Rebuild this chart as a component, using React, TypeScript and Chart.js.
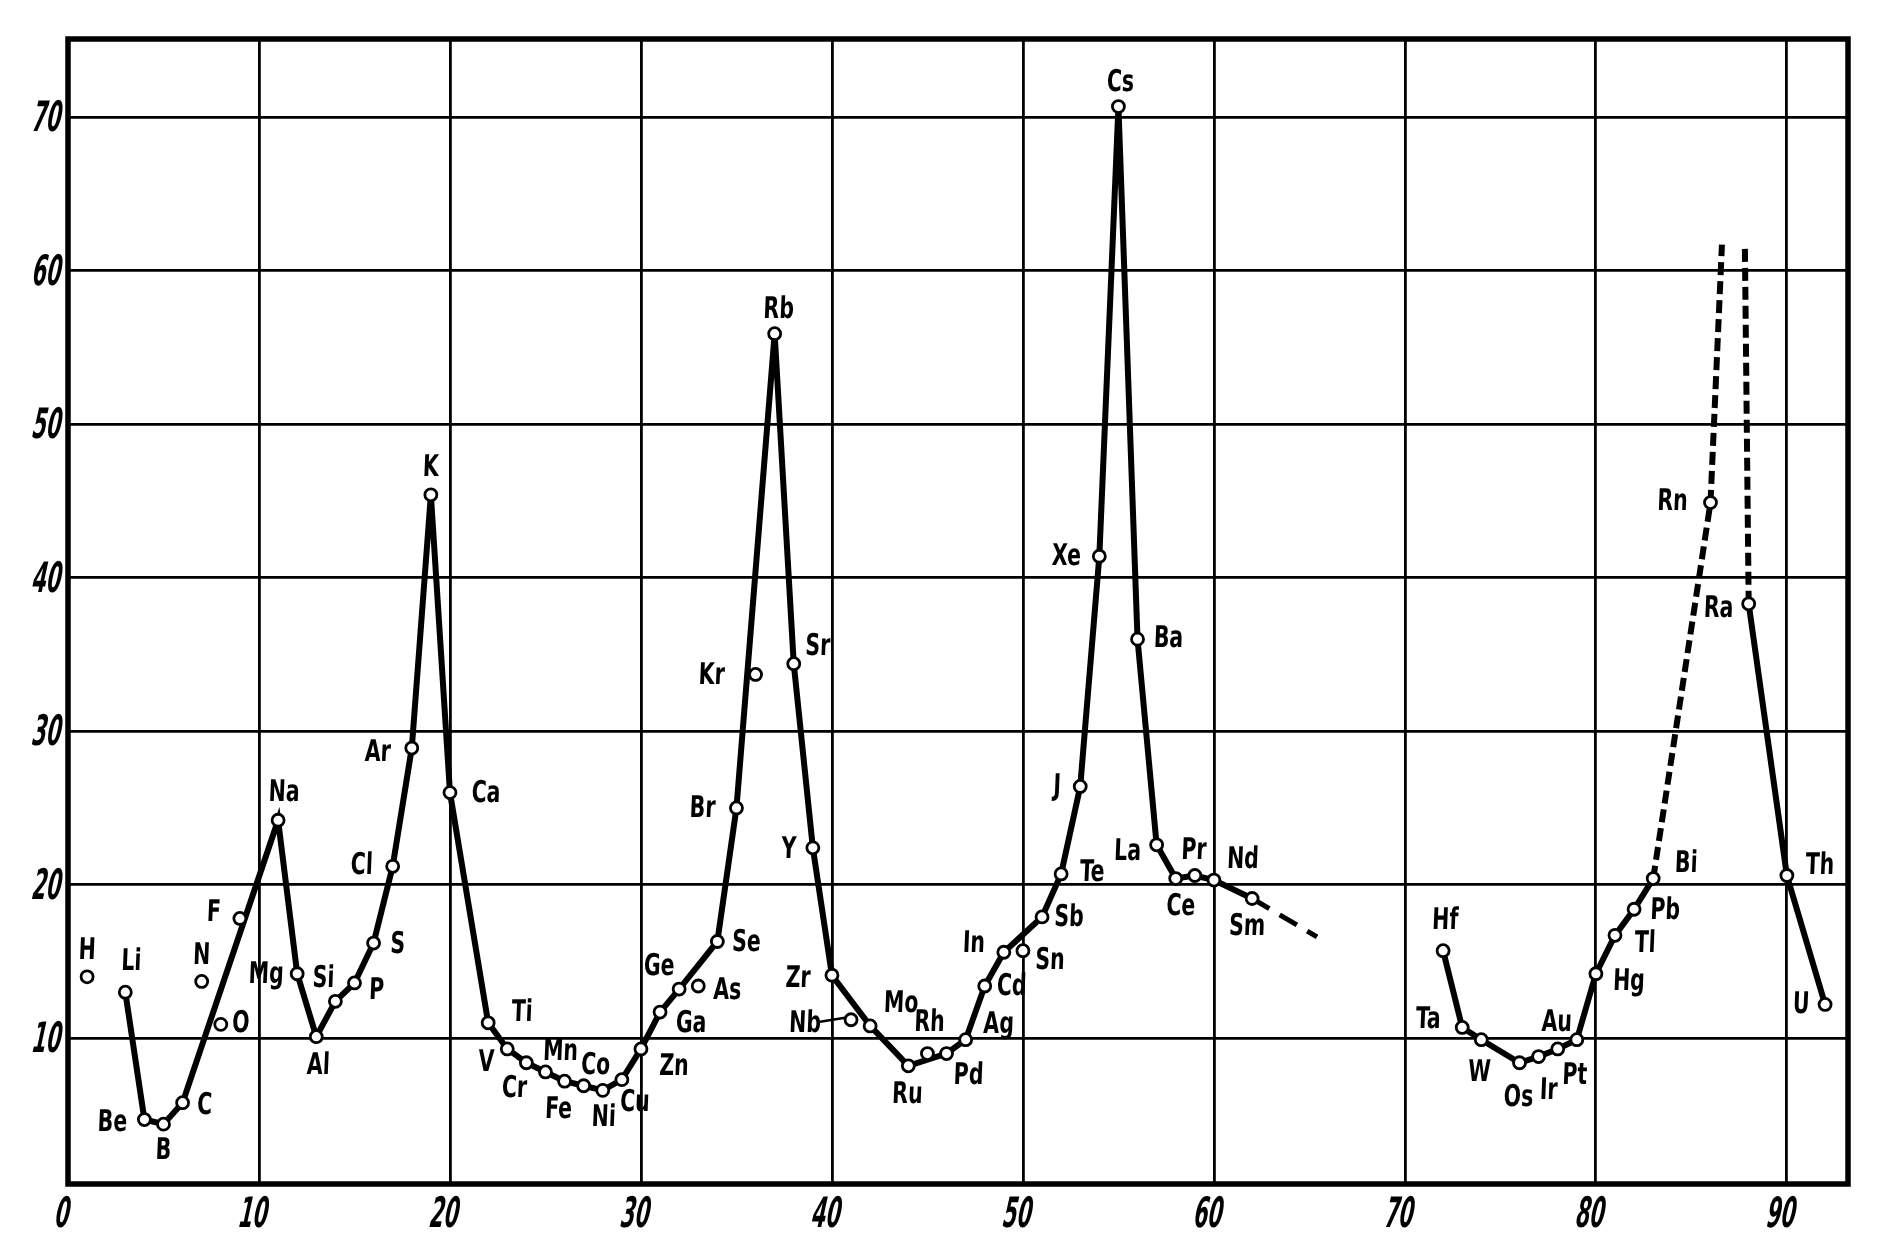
import React, { useEffect, useRef } from "react";
import { Chart, registerables } from "chart.js";

Chart.register(...registerables);

// ---- data (atomic volume vs. atomic number) ----
const symbols = [
  "H", "Li", "Be", "B", "C", "N", "O", "F", "Na", "Mg", "Al", "Si", "P", "S", "Cl", "Ar",
  "K", "Ca", "Ti", "V", "Cr", "Mn", "Fe", "Co", "Ni", "Cu", "Zn", "Ga", "Ge", "As", "Se",
  "Br", "Kr", "Rb", "Sr", "Y", "Zr", "Nb", "Mo", "Ru", "Rh", "Pd", "Ag", "Cd", "In", "Sn",
  "Sb", "Te", "J", "Xe", "Cs", "Ba", "La", "Ce", "Pr", "Nd", "Sm", "Hf", "Ta", "W", "Os",
  "Ir", "Pt", "Au", "Hg", "Tl", "Pb", "Bi", "Rn", "Ra", "Th", "U",
];
const atomicNumbers = [
  1, 3, 4, 5, 6, 7, 8, 9, 11, 12, 13, 14, 15, 16, 17, 18,
  19, 20, 22, 23, 24, 25, 26, 27, 28, 29, 30, 31, 32, 33, 34,
  35, 36, 37, 38, 39, 40, 41, 42, 44, 45, 46, 47, 48, 49, 50,
  51, 52, 53, 54, 55, 56, 57, 58, 59, 60, 62, 72, 73, 74, 76,
  77, 78, 79, 80, 81, 82, 83, 86, 88, 90, 92,
];
const atomicVolumes = [
  14.0, 13.0, 4.7, 4.4, 5.8, 13.7, 10.9, 17.8, 24.2, 14.2, 10.1, 12.4, 13.6, 16.2, 21.2, 28.9,
  45.4, 26.0, 11.0, 9.3, 8.4, 7.8, 7.2, 6.9, 6.6, 7.3, 9.3, 11.7, 13.2, 13.4, 16.3,
  25.0, 33.7, 55.9, 34.4, 22.4, 14.1, 11.2, 10.8, 8.2, 9.0, 9.0, 9.9, 13.4, 15.6, 15.7,
  17.9, 20.7, 26.4, 41.4, 70.7, 36.0, 22.6, 20.4, 20.6, 20.3, 19.1, 15.7, 10.7, 9.9, 8.4,
  8.8, 9.3, 9.9, 14.2, 16.7, 18.4, 20.4, 44.9, 38.3, 20.6, 12.2,
];

// connected runs of elements
const mainChain = [
  "Li", "Be", "B", "C", "Na", "Mg", "Al", "Si", "P", "S", "Cl", "Ar", "K", "Ca", "Ti", "V",
  "Cr", "Mn", "Fe", "Co", "Ni", "Cu", "Zn", "Ga", "Ge", "Se", "Br", "Rb", "Sr", "Y", "Zr",
  "Mo", "Ru", "Pd", "Ag", "Cd", "In", "Sb", "Te", "J", "Xe", "Cs", "Ba", "La", "Ce", "Pr",
  "Nd", "Sm",
];
const heavyChain = ["Hf", "Ta", "W", "Os", "Ir", "Pt", "Au", "Hg", "Tl", "Pb", "Bi"];
const actinideChain = ["Ra", "Th", "U"];
const radonBranch = ["Bi", "Rn"];
const radonBranchEnd = [86.6, 61.7];
const radiumBranch = ["Ra"];
const radiumBranchEnd = [87.8, 61.7];
const rareEarthBranch = ["Sm"];
const rareEarthBranchEnd = [65.4, 16.6];

// tick values
const xTicks = [0, 10, 20, 30, 40, 50, 60, 70, 80, 90];
const yTicks = [10, 20, 30, 40, 50, 60, 70];

// label placement (pixel offset from the point)
const labelOffsets: Record<string, [number, number]> = {
  H: [0, -26], Li: [6, -30], Be: [-32, 4], B: [0, 27], C: [22, 4], N: [0, -25],
  O: [20, 0], F: [-26, -5], Na: [6, -27], Mg: [-31, 1], Si: [-12, -22], Al: [2, 30],
  P: [22, 8], S: [24, 2], Cl: [-31, 0], Ar: [-34, 5], K: [0, -27], Ca: [36, 2],
  Ti: [34, -10], V: [-21, 14], Cr: [-12, 26], Mn: [15, -20], Fe: [-6, 29], Co: [12, -20],
  Ni: [1, 28], Cu: [13, 24], Zn: [33, 18], Ga: [31, 12], Ge: [-20, -22], As: [29, 5],
  Se: [29, 2], Br: [-34, 1], Kr: [-44, 2], Rb: [4, -23], Sr: [24, -16], Y: [-24, 2],
  Zr: [-34, 4], Nb: [-46, 4], Mo: [31, -22], Ru: [-1, 29], Rh: [2, -30], Pd: [22, 23],
  Ag: [33, -15], Cd: [27, 1], In: [-30, -8], Sn: [27, 11], Sb: [27, 1], Te: [31, -1],
  J: [-23, 1], Xe: [-33, 1], Cs: [2, -23], Ba: [31, 0], La: [-29, 7], Ce: [5, 29],
  Pr: [-1, -24], Nd: [29, -20], Sm: [-5, 29], Hf: [2, -29], Ta: [-34, -7], W: [-2, 33],
  Os: [-1, 35], Ir: [10, 35], Pt: [17, 27], Au: [-20, -17], Hg: [33, 8], Tl: [30, 9],
  Pb: [31, 2], Bi: [33, -14], Rn: [-38, 0], Ra: [-30, 5], Th: [33, -9], U: [-24, 1],
};
const leaderLabels = ["Nb"];

const LABEL_FONT = 'bold 30px "DejaVu Sans Condensed", "DejaVu Sans", sans-serif';
const TICK_FONT = 'bold italic 42px "DejaVu Sans Condensed", "DejaVu Sans", sans-serif';

function pt(sym: string) {
  const i = symbols.indexOf(sym);
  return { x: atomicNumbers[i], y: atomicVolumes[i] };
}

function drawNarrow(ctx: CanvasRenderingContext2D, text: string, x: number, y: number, sx: number, skew: number) {
  ctx.save();
  ctx.translate(x, y);
  ctx.transform(1, 0, skew, 1, 0, 0);
  ctx.scale(sx, 1);
  ctx.fillText(text, 0, 0);
  ctx.restore();
}

const framePlugin = {
  id: "frame",
  beforeDatasetsDraw(chart: any) {
    const { ctx, chartArea } = chart;
    ctx.save();
    ctx.strokeStyle = "#000";
    ctx.lineWidth = 5.5;
    ctx.strokeRect(chartArea.left, chartArea.top, chartArea.right - chartArea.left, chartArea.bottom - chartArea.top);
    ctx.restore();
  },
};

const tickPlugin = {
  id: "narrowTicks",
  afterDraw(chart: any) {
    const { ctx, chartArea } = chart;
    const xs = chart.scales.x;
    const ys = chart.scales.y;
    ctx.save();
    ctx.fillStyle = "#000";
    ctx.strokeStyle = "#000";
    ctx.lineWidth = 0.8;
    ctx.font = TICK_FONT;
    ctx.textBaseline = "middle";
    ctx.textAlign = "center";
    xs.ticks.forEach((t: any) => {
      const px = xs.getPixelForValue(t.value);
      drawNarrow(ctx, String(t.value), px - 5, chartArea.bottom + 32, 0.55, -0.12);
    });
    ctx.textAlign = "right";
    ys.ticks.forEach((t: any) => {
      const py = ys.getPixelForValue(t.value);
      drawNarrow(ctx, String(t.value), chartArea.left - 6, py + 3, 0.55, -0.12);
    });
    ctx.restore();
  },
};

const labelPlugin = {
  id: "elementLabels",
  afterDatasetsDraw(chart: any) {
    const { ctx } = chart;
    const xs = chart.scales.x;
    const ys = chart.scales.y;
    ctx.save();
    ctx.fillStyle = "#000";
    ctx.strokeStyle = "#000";
    ctx.font = LABEL_FONT;
    ctx.textAlign = "center";
    ctx.textBaseline = "middle";
    symbols.forEach((s, i) => {
      const px = xs.getPixelForValue(atomicNumbers[i]);
      const py = ys.getPixelForValue(atomicVolumes[i]);
      const off = labelOffsets[s] || [0, -25];
      drawNarrow(ctx, s, px + off[0], py + off[1], 0.76, -0.04);
      if (leaderLabels.includes(s)) {
        ctx.lineWidth = 2.5;
        ctx.beginPath();
        ctx.moveTo(px + off[0] + 15, py + off[1] - 2);
        ctx.lineTo(px - 6, py - 2);
        ctx.stroke();
      }
    });
    ctx.restore();
  },
};

export default function App() {
  const ref = useRef<HTMLCanvasElement | null>(null);

  useEffect(() => {
    if (!ref.current) return;
    const lineBase = {
      type: "line" as const,
      showLine: true,
      borderColor: "#000",
      borderWidth: 6,
      pointRadius: 0,
      pointHoverRadius: 0,
      fill: false,
      tension: 0,
      order: 1,
    };
    const chart = new Chart(ref.current, {
      type: "scatter",
      data: {
        datasets: [
          {
            label: "elements",
            data: symbols.map((s) => pt(s)),
            pointRadius: 6,
            pointBorderWidth: 2.8,
            pointBackgroundColor: "#fff",
            pointBorderColor: "#000",
            showLine: false,
            order: 0,
          } as any,
          { ...lineBase, label: "main", data: mainChain.map(pt) },
          { ...lineBase, label: "heavy", data: heavyChain.map(pt) },
          { ...lineBase, label: "actinide", data: actinideChain.map(pt) },
          {
            ...lineBase,
            label: "Rn branch",
            data: [...radonBranch.map(pt), { x: radonBranchEnd[0], y: radonBranchEnd[1] }],
            borderDash: [13, 6],
          },
          {
            ...lineBase,
            label: "Ra branch",
            data: [...radiumBranch.map(pt), { x: radiumBranchEnd[0], y: radiumBranchEnd[1] }],
            borderDash: [13, 6],
          },
          {
            ...lineBase,
            label: "Sm branch",
            borderWidth: 5,
            data: [...rareEarthBranch.map(pt), { x: rareEarthBranchEnd[0], y: rareEarthBranchEnd[1] }],
            borderDash: [20, 12],
          },
        ] as any,
      },
      options: {
        responsive: false,
        animation: false,
        devicePixelRatio: 1,
        layout: { padding: { left: 0, top: 39, right: 33, bottom: 0 } },
        plugins: { legend: { display: false }, tooltip: { enabled: false } },
        events: [],
        scales: {
          x: {
            type: "linear",
            min: 0,
            max: 93.2,
            afterFit: (s: any) => {
              s.height = 67;
            },
            afterBuildTicks: (s: any) => {
              s.ticks = xTicks.map((v) => ({ value: v }));
            },
            border: { display: false },
            grid: { color: "#000", lineWidth: 2.8, drawTicks: false },
            ticks: { display: false },
          },
          y: {
            type: "linear",
            min: 0.5,
            max: 75.1,
            afterFit: (s: any) => {
              s.width = 68;
            },
            afterBuildTicks: (s: any) => {
              s.ticks = yTicks.map((v) => ({ value: v }));
            },
            border: { display: false },
            grid: { color: "#000", lineWidth: 2.8, drawTicks: false },
            ticks: { display: false },
          },
        },
      } as any,
      plugins: [framePlugin, labelPlugin, tickPlugin],
    });
    return () => chart.destroy();
  }, []);

  return (
    <div style={{ position: "fixed", left: 0, top: 0, width: 1881, height: 1251, background: "#fff" }}>
      <canvas ref={ref} width={1881} height={1251} style={{ display: "block", width: 1881, height: 1251 }} />
    </div>
  );
}
